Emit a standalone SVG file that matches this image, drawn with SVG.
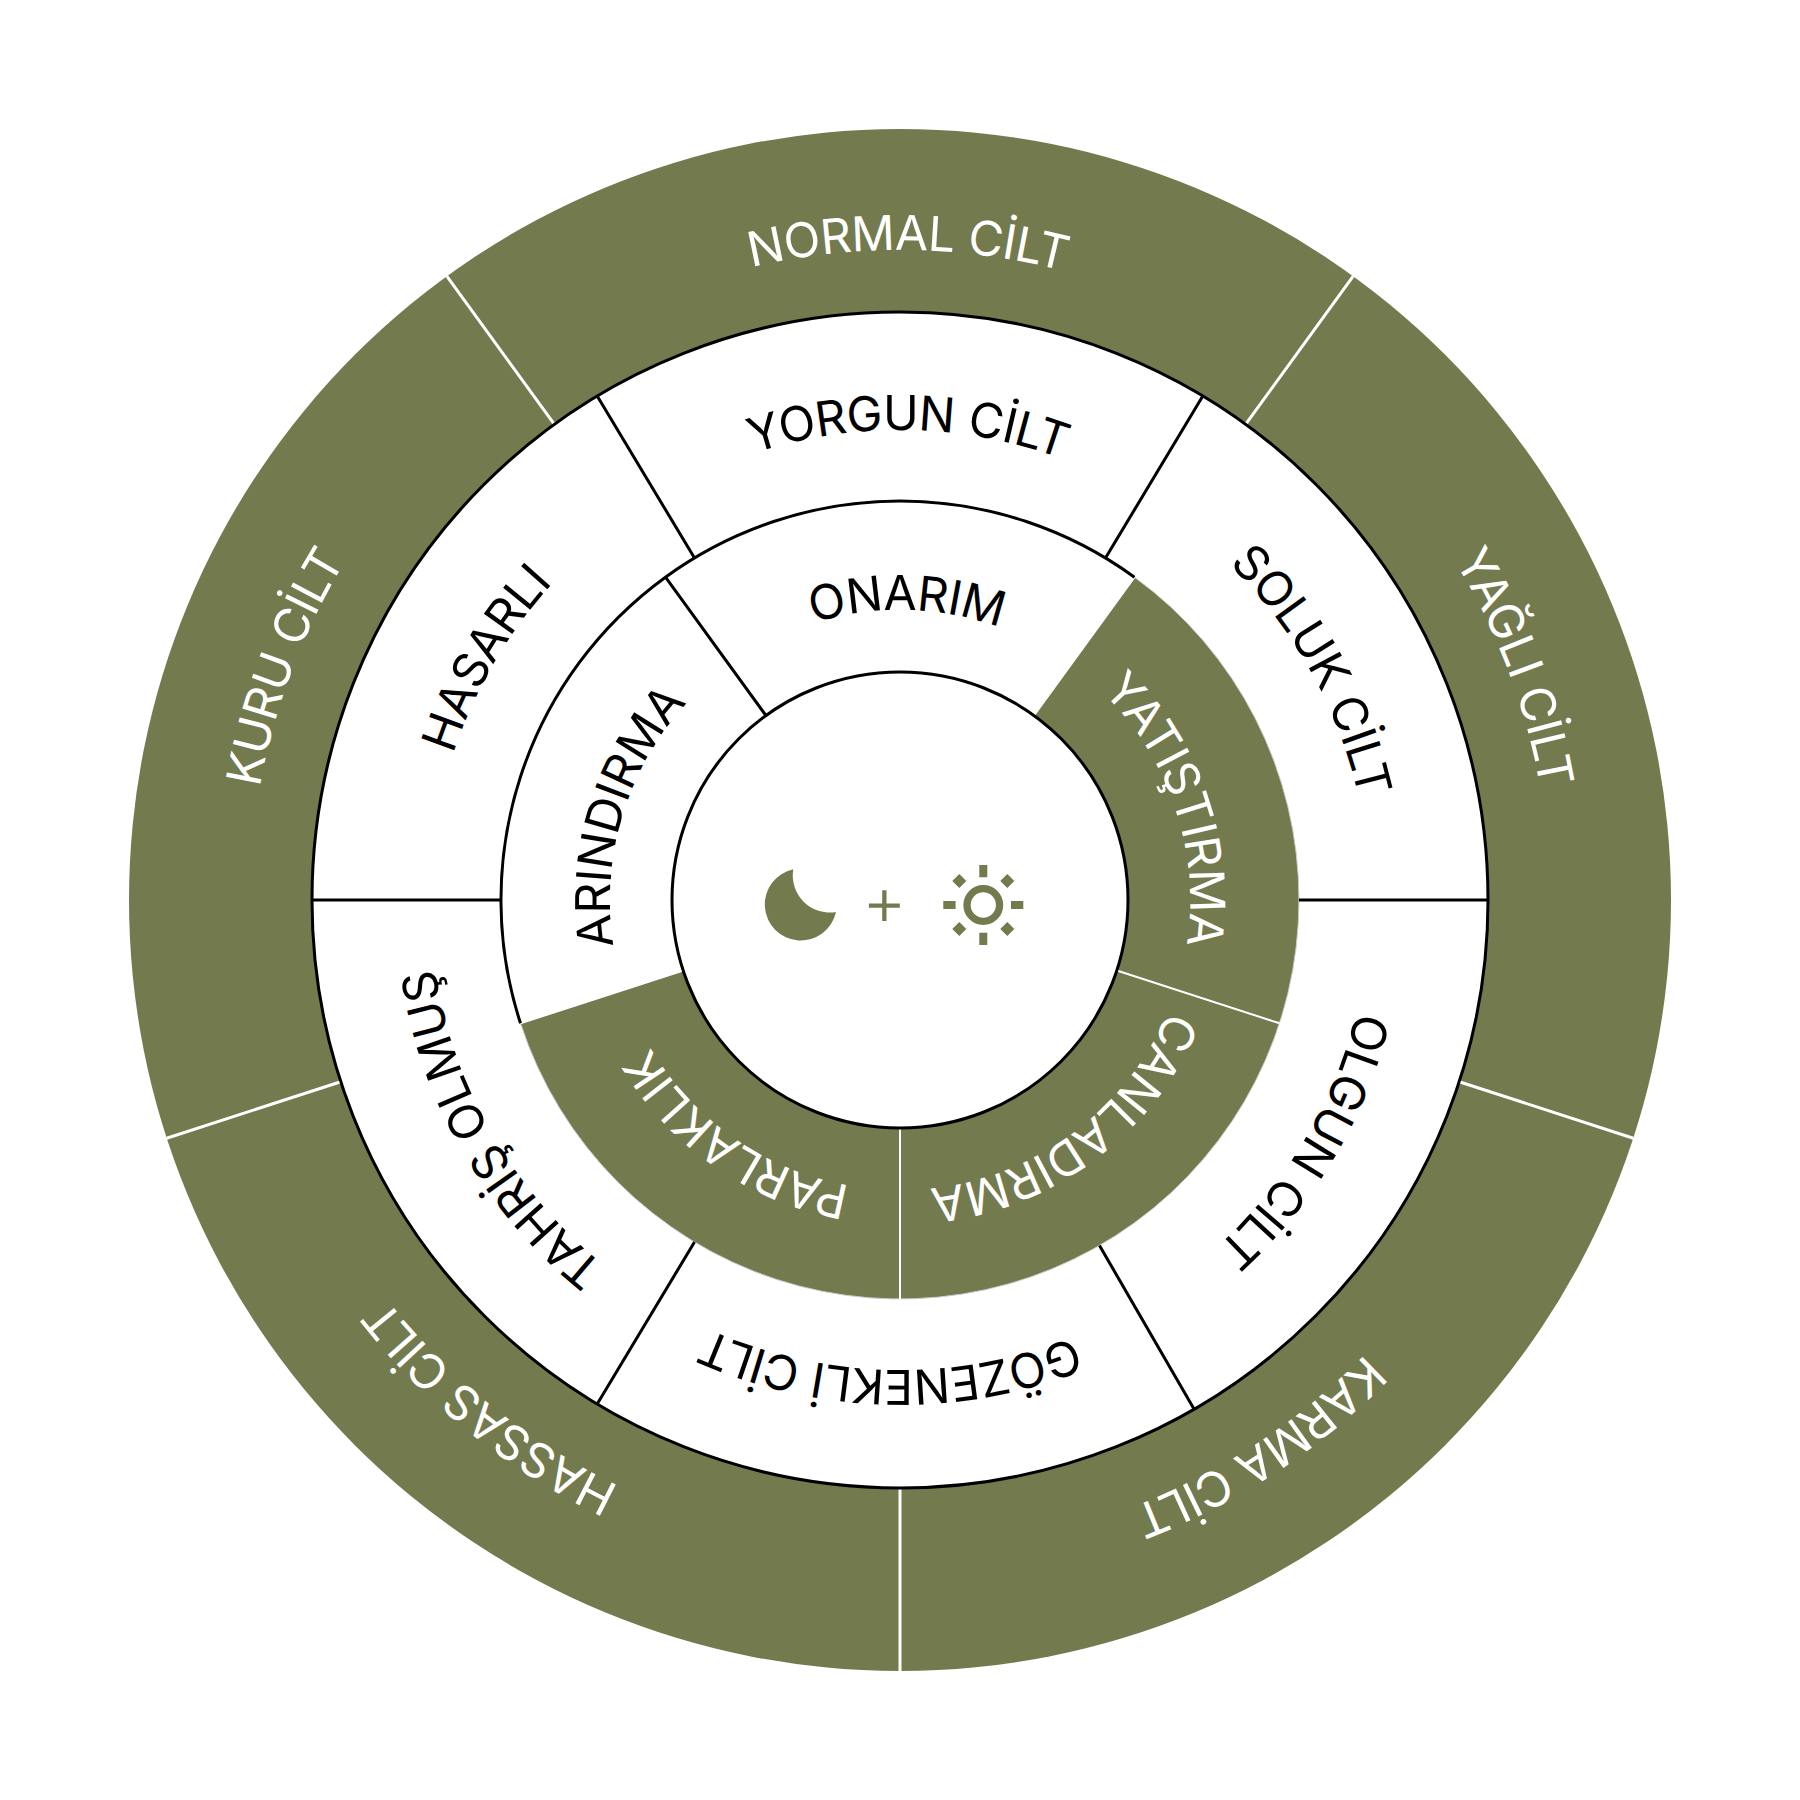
<svg xmlns="http://www.w3.org/2000/svg" width="1800" height="1800" viewBox="0 0 1800 1800">
<style>
text{font-family:Inter,"Noto Sans","Liberation Sans",sans-serif;font-size:48px;letter-spacing:-.6px;text-anchor:middle}
.w{fill:#fff;font-weight:400}
.b{fill:#000;font-weight:400}
.g{fill:#737A4E}
.wl{stroke:#fff;stroke-width:3;fill:none}
.wt{stroke:#fff;stroke-width:2;fill:none}
.bl{stroke:#000;stroke-width:3;fill:none}
</style>
<defs>
<path id="r650" d="M900 1550A650 650 0 1 1 900 250A650 650 0 1 1 900 1550"/>
<path id="r470" d="M900 1370A470 470 0 1 1 900 430A470 470 0 1 1 900 1370"/>
<path id="r290" d="M900 1190A290 290 0 1 1 900 610A290 290 0 1 1 900 1190"/>
</defs>
<rect width="1800" height="1800" fill="#fff"/>
<g id="outer-ring"><circle class="g" cx="900" cy="900" r="771"/><circle cx="900" cy="900" r="588" fill="#fff"/></g>
<path id="inner-green" class="g" d="M1134.5 577.2A399 399 0 1 1 520.5 1023.3L683.2 970.5A228 228 0 1 0 1034 715.5Z" stroke="#ccc" stroke-width="1"/>
<g id="connectors">
<path class="wl" d="M1245.6 424.3L1353.2 276.2M1459.2 1081.7L1633.3 1138.3M900 1488V1671M340.8 1081.7L166.7 1138.3M554.4 424.3L446.8 276.2"/>
<path class="bl" d="M1105.5 558L1202.8 396M1299 900H1488M1099.5 1245.5L1194 1409M694.5 1242L597.2 1404M501 900H312M694.5 558L597.2 396M765.9 715.5L665.5 577.2"/>
<path class="wt" d="M1034 715.5L1134.5 577.2M1116.8 970.5L1279.5 1023.3M900 1128V1299M683.2 970.5L520.5 1023.3"/>
<circle class="bl" cx="900" cy="900" r="588"/>
<path class="bl" d="M520.5 1023.3A399 399 0 0 1 1134.5 577.2"/>
<circle class="bl" cx="900" cy="900" r="228"/>
</g>
<g id="normal"><text class="w" transform="rotate(0.7 900 900)"><textPath href="#r650" startOffset="50%">NORMAL CİLT</textPath></text></g>
<g id="yagli"><text class="w" transform="rotate(69.3 900 900)"><textPath href="#r650" startOffset="50%">YAĞLI CİLT</textPath></text></g>
<g id="karma"><text class="w" transform="rotate(146.7 900 900)"><textPath href="#r650" startOffset="50%">KARMA CİLT</textPath></text></g>
<g id="hassas"><text class="w" transform="rotate(218.9 900 900)"><textPath href="#r650" startOffset="50%">HASSAS CİLT</textPath></text></g>
<g id="kuru"><text class="w" transform="rotate(290.7 900 900)"><textPath href="#r650" startOffset="50%">KURU CİLT</textPath></text></g>
<g id="yorgun"><text class="b" transform="rotate(1 900 900)"><textPath href="#r470" startOffset="50%">YORGUN CİLT</textPath></text></g>
<g id="soluk"><text class="b" transform="rotate(60.9 900 900)"><textPath href="#r470" startOffset="50%">SOLUK CİLT</textPath></text></g>
<g id="olgun"><text class="b" transform="rotate(120.7 900 900)"><textPath href="#r470" startOffset="50%">OLGUN CİLT</textPath></text></g>
<g id="gozenekli"><text class="b" transform="rotate(181.2 900 900)"><textPath href="#r470" startOffset="50%">GÖZENEKLİ CİLT</textPath></text></g>
<g id="tahris"><text class="b" transform="rotate(240.2 900 900)"><textPath href="#r470" startOffset="50%">TAHRİŞ OLMUŞ</textPath></text></g>
<g id="hasarli"><text class="b" transform="rotate(300.2 900 900)"><textPath href="#r470" startOffset="50%">HASARLI</textPath></text></g>
<g id="onarim"><text class="b" transform="rotate(1.3 900 900)"><textPath href="#r290" startOffset="50%">ONARIM</textPath></text></g>
<g id="yatistirma"><text class="w" transform="rotate(71.4 900 900)"><textPath href="#r290" startOffset="50%">YATIŞTIRMA</textPath></text></g>
<g id="canladirma"><text class="w" transform="rotate(143.2 900 900)"><textPath href="#r290" startOffset="50%">CANLADIRMA</textPath></text></g>
<g id="parlaklik"><text class="w" transform="rotate(214.7 900 900)"><textPath href="#r290" startOffset="50%">PARLAKLIK</textPath></text></g>
<g id="arindirma"><text class="b" transform="rotate(286.8 900 900)"><textPath href="#r290" startOffset="50%">ARINDIRMA</textPath></text></g>
<g id="center-icons" class="g">
<path id="moon" d="M793.3 869.3A36 36 0 1 0 836 912A37 37 0 0 1 793.3 869.3Z"/>
<path id="plus" d="M882.2 890.2h4.3v13.3h13.3v4.3h-13.3v13.3h-4.3v-13.3h-13.3v-4.3h13.3z"/>
<g id="sun"><circle cx="983.3" cy="905" r="16.3" fill="none" stroke="#737A4E" stroke-width="7.3"/>
<path d="M979.3 865h8v12.3h-8zM979.3 932.7h8v12.3h-8zM943.3 901h12.3v8h-12.3zM1011 901h12.3v8h-12.3z"/>
<path d="M952.3 881l7-7 7 7-7 7zM1000.3 881l7-7 7 7-7 7zM952.3 929l7-7 7 7-7 7zM1000.3 929l7-7 7 7-7 7z"/></g>
</g>
</svg>
